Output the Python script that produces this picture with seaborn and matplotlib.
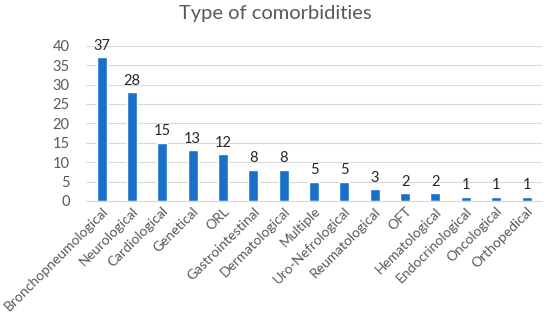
import pandas as pd
import seaborn as sns
import matplotlib.pyplot as plt

categories = ["Bronchopneumological", "Neurological", "Cardiological", "Genetical", "ORL",
              "Gastrointestinal", "Dermatological", "Multiple", "Uro-Nefrological",
              "Reumatological", "OFT", "Hematological", "Endocrinological", "Oncological",
              "Orthopedical"]
counts = [37, 28, 15, 13, 12, 8, 8, 5, 5, 3, 2, 2, 1, 1, 1]
yticks = [0, 5, 10, 15, 20, 25, 30, 35, 40]

df = pd.DataFrame({"type": categories, "count": counts})

sns.set_style("white")
plt.rcParams["font.family"] = ["Lato", "DejaVu Sans"]

fig = plt.figure(figsize=(5.5, 3.22), dpi=100)
ax = fig.add_axes([0.157, 0.376, 0.828, 0.482])

sns.barplot(data=df, x="type", y="count", color="#1a6fc9", width=0.33, saturation=1, ax=ax)

# value labels above bars
for i, v in enumerate(counts):
    ax.text(i, v + 1.2, str(v), ha="center", va="bottom", fontsize=10.5, color="#262626")

ax.set_ylim(0, 40)
ax.set_yticks(yticks)
ax.set_xlim(-0.5, len(categories) - 0.5)
ax.yaxis.grid(True, color="#d9d9d9", linewidth=0.8)
ax.set_axisbelow(True)
for s in ["top", "right", "left"]:
    ax.spines[s].set_visible(False)
ax.spines["bottom"].set_color("#d9d9d9")
ax.set_xlabel("")
ax.set_ylabel("")
ax.tick_params(axis="both", length=0, labelcolor="#595959")
ax.tick_params(axis="y", labelsize=10.5, pad=12)
ax.set_xticks(range(len(categories)))
ax.set_xticklabels(categories, rotation=45, ha="right", rotation_mode="anchor", fontsize=10)
ax.tick_params(axis="x", pad=3)

fig.suptitle("Type of comorbidities", fontsize=14.5, color="#595959", y=0.985)

fig.savefig("out.png")
